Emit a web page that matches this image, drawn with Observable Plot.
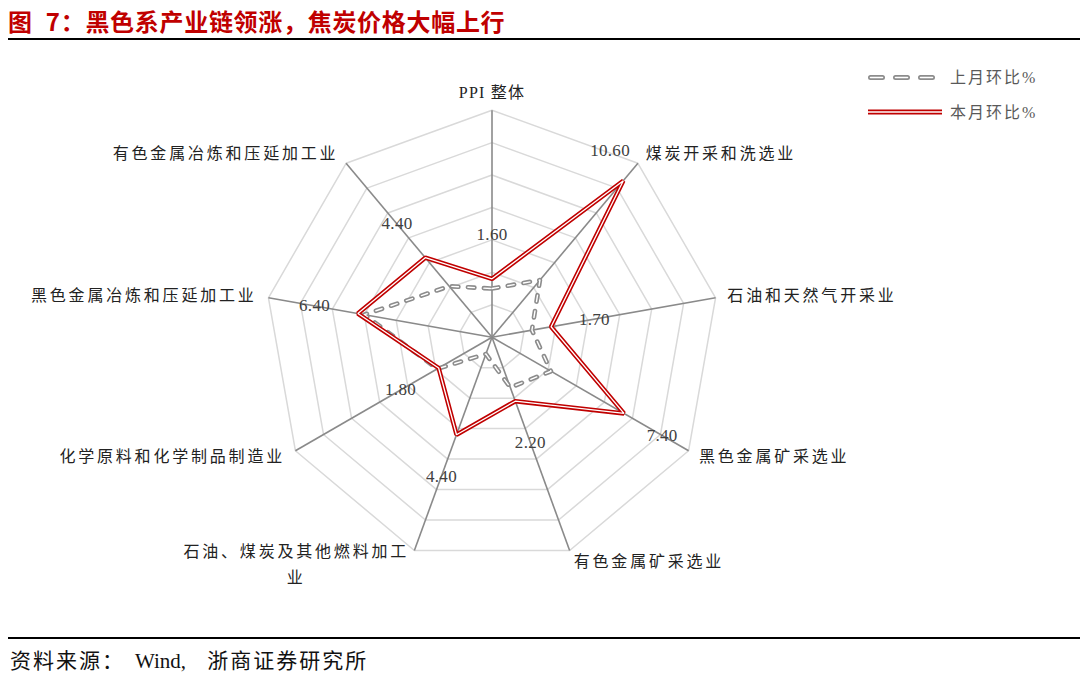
<!DOCTYPE html>
<html>
<head>
<meta charset="utf-8">
<script src="https://cdn.jsdelivr.net/npm/d3@7"></script>
<script src="https://cdn.jsdelivr.net/npm/@observablehq/plot@0.6"></script>
<style>
  body { margin: 0; background: #fff; }
  #page { position: relative; width: 1080px; height: 684px; overflow: hidden; background: #fff; }
  #title { position: absolute; left: 8px; top: 8px; font: bold 24px 'Noto Sans CJK SC', sans-serif; color: #c00000; line-height: 26px; white-space: nowrap; letter-spacing: 0.7px; word-spacing: 7px; }
  #rule-top { position: absolute; left: 8px; right: 0; top: 38px; height: 2px; background: #000; }
  #chart { position: absolute; left: 0; top: 42px; }
  #legend { position: absolute; left: 860px; top: 62px; }
  #rule-bottom { position: absolute; left: 8px; right: 0; top: 637px; height: 1.5px; background: #000; }
  #source { position: absolute; left: 10px; top: 648px; font: 21px 'Liberation Serif', 'Noto Sans CJK SC', serif; color: #111; letter-spacing: 2px; white-space: pre; line-height: 26px; }
  #source .lat { letter-spacing: 0; word-spacing: 16px; margin-left: 10px; }
</style>
</head>
<body>
<div id="page">
  <div id="title">图 7：黑色系产业链领涨，焦炭价格大幅上行</div>
  <div id="rule-top"></div>
  <div id="chart"></div>
  <div id="legend"></div>
  <div id="rule-bottom"></div>
  <div id="source">资料来源：<span class="lat">Wind, </span>浙商证券研究所</div>
</div>
<script>
// ---------------- data ----------------
const categories = [
  "PPI 整体",
  "煤炭开采和洗选业",
  "石油和天然气开采业",
  "黑色金属矿采选业",
  "有色金属矿采选业",
  "石油、煤炭及其他燃料加工业",
  "化学原料和化学制品制造业",
  "黑色金属冶炼和压延加工业",
  "有色金属冶炼和压延加工业"
];
const seriesNames = ["上月环比%", "本月环比%"];
const lastMonth = [1.0, 2.6, 0.5, 2.2, 1.3, -0.9, 1.9, 6.0, 2.1];
const thisMonth = [1.6, 10.6, 1.7, 7.4, 2.2, 4.4, 1.8, 6.4, 4.4];
const valueLabels = ["1.60", "10.60", "1.70", "7.40", "2.20", "4.40", "1.80", "6.40", "4.40"];
const ringTicks = [0, 2, 4, 6, 8, 10, 12];
const scaleMin = -2, scaleMax = 12;

// ---------------- layout ----------------
const W = 1080, H = 594;
const cx = 491.5, cy = 294.7, Rpx = 227;
const span = scaleMax - scaleMin;          // radius in value units
const k = span / Rpx;                       // value units per pixel
const n = categories.length;
const ang = i => i * 2 * Math.PI / n;
const polar = (r, a) => ({x: r * Math.sin(a), y: r * Math.cos(a)});
const rad = v => v - scaleMin;

const FONT = "'Liberation Serif','Noto Sans CJK SC',serif";

// grid rings
const rings = [];
ringTicks.forEach(t => {
  if (rad(t) <= 0) return;
  categories.forEach((c, i) => rings.push({ring: t, ...polar(rad(t), ang(i))}));
});
// spokes
const spokes = categories.map((c, i) => {
  const p = polar(span, ang(i));
  return {x1: 0, y1: 0, x2: p.x, y2: p.y};
});
// series
const lastPts = lastMonth.map((v, i) => ({series: seriesNames[0], ...polar(rad(v), ang(i))}));
const thisPts = thisMonth.map((v, i) => ({series: seriesNames[1], ...polar(rad(v), ang(i))}));

// value labels (placed outward from the point along its axis)
const lblOff = 44 * k, lblMax = 221 * k, lblShift = 7.7 * Math.PI / 180;
const valPts = thisMonth.map((v, i) => {
  const want = rad(v) + lblOff;
  const r = Math.min(want, lblMax);
  const a = ang(i) - (want > lblMax ? lblShift : 0);
  return {text: valueLabels[i], ...polar(r, a)};
});

// category labels
const catOff = 12 * k;
const catPts = categories.map((c, i) => {
  const s = Math.sin(ang(i));
  const text = c.length > 12 ? c.slice(0, 12) + "\n" + c.slice(12) : c;
  return {text, side: Math.abs(s) < 0.1 ? "top" : (s > 0 ? "right" : "left"), wrapped: c.length > 12, ...polar(span + catOff, ang(i))};
});

const chart = Plot.plot({
  width: W, height: H,
  marginTop: 0, marginRight: 0, marginBottom: 0, marginLeft: 0,
  x: {type: "linear", domain: [-cx * k, (W - cx) * k], range: [0, W], axis: null},
  y: {type: "linear", domain: [-(H - cy) * k, cy * k], range: [H, 0], axis: null},
  style: {fontFamily: FONT, fontSize: "16px", background: "#fff", overflow: "visible"},
  marks: [
    Plot.line(rings, {x: "x", y: "y", z: "ring", curve: "linear-closed", stroke: "#d9d9d9", strokeWidth: 1.5}),
    Plot.link(spokes, {x1: "x1", y1: "y1", x2: "x2", y2: "y2", stroke: "#8a8a8a", strokeWidth: 1.6}),
    Plot.line(lastPts, {x: "x", y: "y", curve: "linear-closed", stroke: "#8c8c8c", strokeWidth: 4.6, strokeDasharray: "6.5,9.5", strokeLinecap: "round", strokeLinejoin: "round"}),
    Plot.line(lastPts, {x: "x", y: "y", curve: "linear-closed", stroke: "#fff", strokeWidth: 1.4, strokeDasharray: "6.5,9.5", strokeLinecap: "round", strokeLinejoin: "round"}),
    Plot.line(thisPts, {x: "x", y: "y", curve: "linear-closed", stroke: "#c00000", strokeWidth: 4.5, strokeLinejoin: "miter"}),
    Plot.line(thisPts, {x: "x", y: "y", curve: "linear-closed", stroke: "#fff", strokeWidth: 1.3, strokeLinejoin: "miter"}),
    Plot.text(valPts, {x: "x", y: "y", text: "text", fill: "#404040", fontSize: 17, textAnchor: "middle"}),
    Plot.text(catPts.filter(d => d.side === "top"), {x: "x", y: "y", text: "text", fill: "#222", fontSize: 16, textAnchor: "middle", lineAnchor: "bottom"}),
    Plot.text(catPts.filter(d => d.side === "right"), {x: "x", y: "y", text: "text", fill: "#222", fontSize: 16, textAnchor: "start"}),
    Plot.text(catPts.filter(d => d.side === "left" && !d.wrapped), {x: "x", y: "y", text: "text", fill: "#222", fontSize: 16, textAnchor: "end"}),
    Plot.text(catPts.filter(d => d.side === "left" && d.wrapped), {x: "x", y: "y", text: "text", fill: "#222", fontSize: 16, textAnchor: "middle", dx: -114, lineHeight: 1.6})
  ]
});
document.getElementById("chart").appendChild(chart);
// letter spacing: wide for pure CJK labels, tight for numbers / Latin
d3.select(chart).selectAll("text").each(function() {
  const t = this.textContent;
  const cjk = /[\u4e00-\u9fff]/.test(t), latin = /[A-Za-z]/.test(t);
  d3.select(this).attr("letter-spacing", cjk && !latin ? "2.8px" : (latin ? "1.2px" : "0.3px"));
});

// legend
const lg = d3.select("#legend").append("svg").attr("width", 210).attr("height", 70).style("overflow", "visible");
const items = [
  {name: seriesNames[0], y: 15.5, stroke: "#8c8c8c", dash: "12,13"},
  {name: seriesNames[1], y: 50, stroke: "#c00000", dash: null}
];
items.forEach(it => {
  const x1 = it.dash ? 10.5 : 8, x2 = it.dash ? 76 : 82;
  const a = lg.append("line").attr("x1", x1).attr("x2", x2).attr("y1", it.y).attr("y2", it.y)
    .attr("stroke", it.stroke).attr("stroke-width", 5).attr("stroke-linecap", it.dash ? "round" : "butt");
  const b = lg.append("line").attr("x1", x1).attr("x2", x2).attr("y1", it.y).attr("y2", it.y)
    .attr("stroke", "#fff").attr("stroke-width", 1.6).attr("stroke-linecap", it.dash ? "round" : "butt");
  if (it.dash) { a.attr("stroke-dasharray", it.dash); b.attr("stroke-dasharray", it.dash); }
  lg.append("text").attr("x", 90).attr("y", it.y).attr("dy", "0.35em").attr("fill", "#595959")
    .style("font-family", FONT).style("font-size", "16px").attr("letter-spacing", "2px").text(it.name);
});
</script>
</body>
</html>
